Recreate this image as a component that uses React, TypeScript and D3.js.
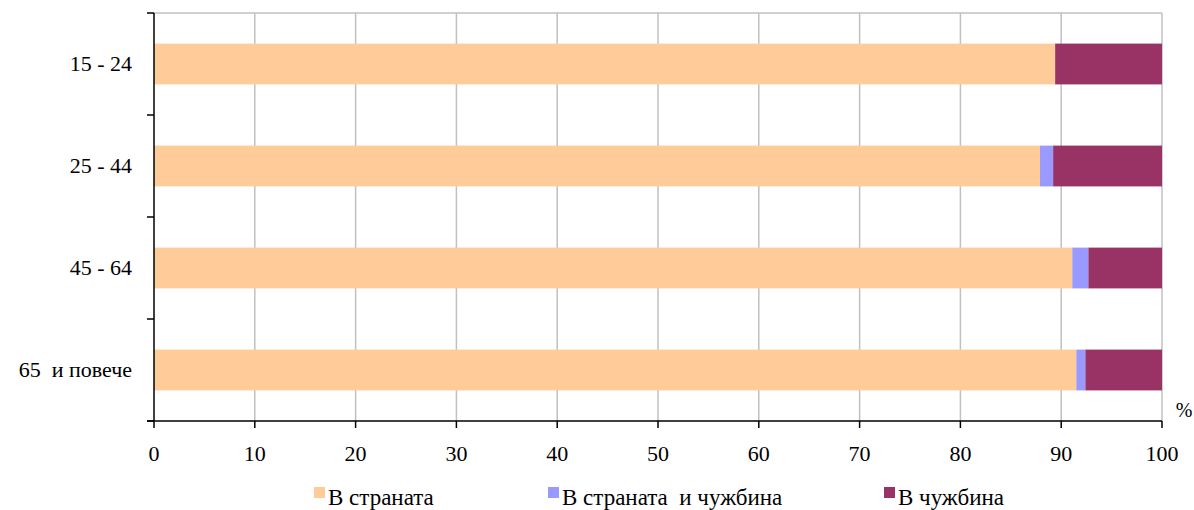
import { FunctionComponent } from "react";
import * as d3 from "d3";

const categories = ["15 - 24", "25 - 44", "45 - 64", "65  и повече"];
const seriesNames = ["В страната", "В страната  и чужбина", "В чужбина"];
const inCountry = [89.4, 87.9, 91.1, 91.5];
const both = [0, 1.3, 1.6, 0.9];
const abroad = [10.6, 10.8, 7.3, 7.6];
const xTicks = [0, 10, 20, 30, 40, 50, 60, 70, 80, 90, 100];
const colors = ["#FFCC99", "#9999FF", "#993366"];

const W = 1194;
const H = 510;
const FONT = "Liberation Serif, Times New Roman, DejaVu Serif, serif";
const margin = { left: 154, right: 32, top: 13, bottom: 89 };

interface Row { cat: string; a: number; b: number; c: number }

const App: FunctionComponent = () => {
    const x = d3.scaleLinear().domain([0, 100]).range([margin.left, W - margin.right]);
    const y = d3.scaleBand<string>().domain(categories).range([margin.top, H - margin.bottom]).paddingInner(0.6).paddingOuter(0.3);
    const yOuter = d3.scaleBand<string>().domain(categories).range([margin.top, H - margin.bottom]);

    const rows: Row[] = categories.map((c, i) => ({ cat: c, a: inCountry[i], b: both[i], c: abroad[i] }));
    const layers = d3.stack<Row>().keys(["a", "b", "c"])(rows);

    const bottom = H - margin.bottom;
    const yTickPos = categories.map(c => yOuter(c)!).concat([bottom]);
    const legendX = [314, 548, 884];

    return (
        <svg width={W} height={H} fontFamily={FONT} style={{ position: "absolute", left: 0, top: 0 }}>
            {/* grid */}
            <g stroke="#C0C0C0" strokeWidth={1.5}>
                {xTicks.slice(1).map(t => (
                    <line key={t} x1={x(t)} x2={x(t)} y1={margin.top} y2={bottom} />
                ))}
                <line x1={x(0)} x2={x(100)} y1={margin.top} y2={margin.top} />
            </g>

            {/* bars */}
            {layers.map((layer, i) => (
                <g key={layer.key} fill={colors[i]}>
                    {layer.map(d => (
                        <rect key={d.data.cat} x={x(d[0])} width={x(d[1]) - x(d[0])}
                            y={y(d.data.cat)} height={y.bandwidth()} />
                    ))}
                </g>
            ))}

            {/* axes */}
            <g stroke="#000" strokeWidth={1.5}>
                <line x1={margin.left} x2={margin.left} y1={margin.top} y2={bottom} />
                {yTickPos.map(p => (
                    <line key={p} x1={margin.left - 7} x2={margin.left} y1={p} y2={p} />
                ))}
                <line x1={margin.left - 7} x2={x(100)} y1={bottom} y2={bottom} />
                {xTicks.map(t => (
                    <line key={t} x1={x(t)} x2={x(t)} y1={bottom} y2={bottom + 7} />
                ))}
            </g>

            {categories.map(c => (
                <text key={c} x={132} y={yOuter(c)! + yOuter.bandwidth() / 2 + 7}
                    textAnchor="end" fontFamily={FONT} fontSize={22} style={{ whiteSpace: "pre" }}>{c}</text>
            ))}

            {xTicks.map(t => (
                <text key={t} x={x(t)} y={461} textAnchor="middle" fontFamily={FONT} fontSize={22}>{t}</text>
            ))}

            <text x={1184} y={417} textAnchor="middle" fontFamily={FONT} fontSize={20}>%</text>

            {/* legend */}
            {seriesNames.map((s, i) => (
                <g key={s} transform={`translate(${legendX[i]},498)`}>
                    <rect x={0} y={-11} width={11} height={11} fill={colors[i]} />
                    <text x={14} y={7} fontFamily={FONT} fontSize={23} style={{ whiteSpace: "pre" }}>{s}</text>
                </g>
            ))}
        </svg>
    );
};

export default App;
